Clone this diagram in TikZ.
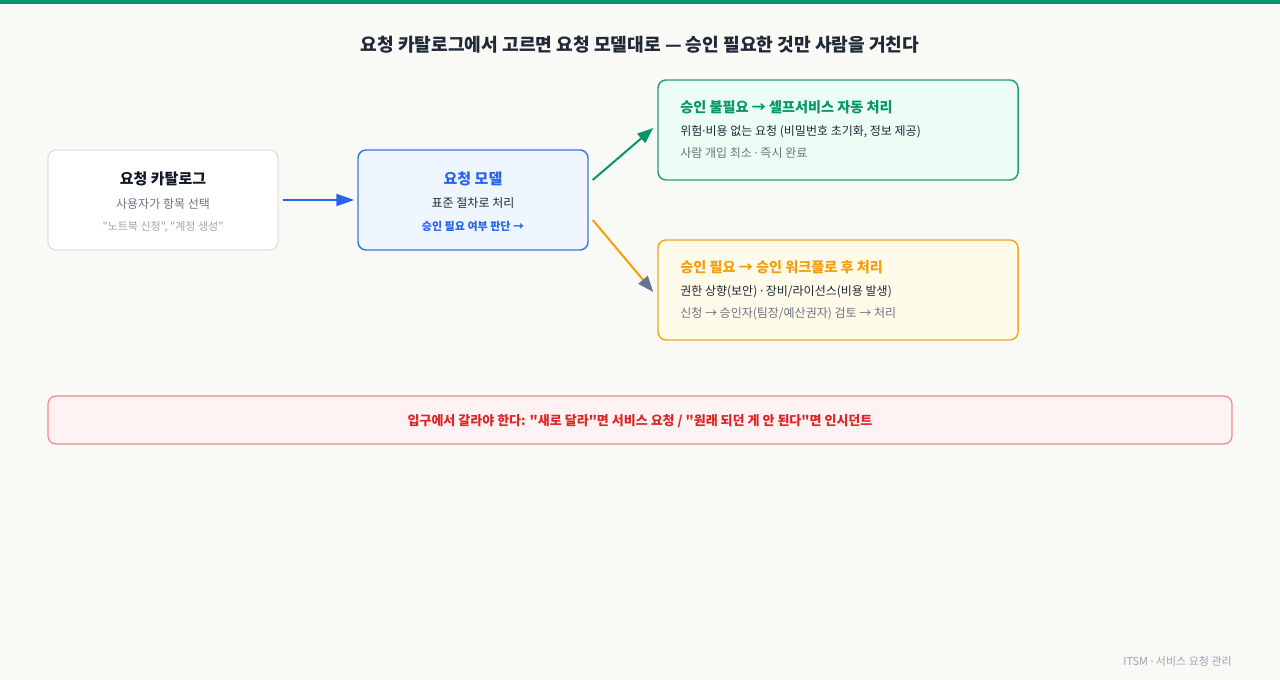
\documentclass[tikz,border=0pt]{standalone}
\usepackage{fontspec}
\setmainfont{Noto Sans CJK KR}[Ligatures=TeXOff]
\newfontfamily\latinfam{Noto Sans}
\newcommand\mdot{{\latinfam ·}}
\usetikzlibrary{arrows.meta,calc}
\definecolor{bg}{HTML}{F9F9F6}
\definecolor{topbar}{HTML}{059669}
\definecolor{titlec}{HTML}{1F2937}
\definecolor{ink}{HTML}{111827}
\definecolor{body}{HTML}{1F2937}
\definecolor{muted}{HTML}{6B7280}
\definecolor{faint}{HTML}{9CA3AF}
\definecolor{catborder}{HTML}{E3E3DD}
\definecolor{blue}{HTML}{2563EB}
\definecolor{blueborder}{HTML}{3B76E8}
\definecolor{bluefill}{HTML}{EFF6FF}
\definecolor{green}{HTML}{059669}
\definecolor{greenborder}{HTML}{1FA075}
\definecolor{greenfill}{HTML}{ECFDF5}
\definecolor{orange}{HTML}{F59E0B}
\definecolor{orangeborder}{HTML}{F5A623}
\definecolor{orangefill}{HTML}{FFFBEB}
\definecolor{red}{HTML}{DC2626}
\definecolor{redborder}{HTML}{F08A8A}
\definecolor{redfill}{HTML}{FEF2F2}
\definecolor{slate}{HTML}{64748B}
\begin{document}
\begin{tikzpicture}[x=0.75pt,y=-0.75pt,
  box/.style={rectangle,rounded corners=6pt,line width=1.1pt,inner sep=0pt},
  smallbox/.style={box,minimum width=172.5pt,minimum height=75pt},
  widebox/.style={box,minimum width=270pt,minimum height=75pt},
  ttl/.style={font=\bfseries\fontsize{11.25pt}{13pt}\selectfont,inner sep=0pt},
  wttl/.style={font=\bfseries\fontsize{10.6pt}{12pt}\selectfont,inner sep=0pt},
  txt/.style={font=\fontsize{9pt}{11pt}\selectfont,inner sep=0pt},
  sml/.style={font=\fontsize{8.25pt}{10pt}\selectfont,inner sep=0pt},
  conn/.style={line width=1.5pt}
]
\fill[bg] (0,0) rectangle (1280,680);
\useasboundingbox (0,0) rectangle (1280,680);
\fill[topbar] (0,0) rectangle (1280,4);

\node[font=\bfseries\fontsize{13.6pt}{16pt}\selectfont,text=titlec,inner sep=0pt] (title) at (640,45) {요청 카탈로그에서 고르면 요청 모델대로 — 승인 필요한 것만 사람을 거친다};

% catalog
\node[smallbox,draw=catborder,fill=white] (cat) at (163,200) {};
\node[ttl,text=ink] (catT) at (163,178.5) {요청 카탈로그};
\node[txt,text=muted] (catA) at (163,203.5) {사용자가 항목 선택};
\node[sml,text=faint] (catB) at (163,226.5) {"노트북 신청", "계정 생성"};

% model
\node[smallbox,draw=blueborder,fill=bluefill] (model) at (473,200) {};
\node[ttl,text=blue] (modT) at (473,178.5) {요청 모델};
\node[txt,text=body] (modA) at (473,203.5) {표준 절차로 처리};
\node[sml,text=blue,font=\bfseries\fontsize{8.25pt}{10pt}\selectfont] (modB) at (473,226.5) {승인 필요 여부 판단 →};

% green
\node[widebox,draw=greenborder,fill=greenfill] (self) at (838,130) {};
\node[wttl,text=green,anchor=west] (selfT) at (680,107.5) {승인 불필요 → 셀프서비스 자동 처리};
\node[txt,text=body,anchor=west] (selfA) at (680,131.5) {위험\mdot 비용 없는 요청 (비밀번호 초기화, 정보 제공)};
\node[txt,text=muted,anchor=west] (selfB) at (680,153.5) {사람 개입 최소 \mdot{} 즉시 완료};

% orange
\node[widebox,draw=orangeborder,fill=orangefill] (appr) at (838,290) {};
\node[wttl,text=orange,anchor=west] (apprT) at (680,267.5) {승인 필요 → 승인 워크플로 후 처리};
\node[txt,text=body,anchor=west] (apprA) at (680,291.5) {권한 상향(보안) \mdot{} 장비/라이선스(비용 발생)};
\node[txt,text=muted,anchor=west] (apprB) at (680,313.5) {신청 → 승인자(팀장/예산권자) 검토 → 처리};

% red note
\node[box,draw=redborder,fill=redfill,minimum width=888pt,minimum height=36pt,line width=0.9pt] (note) at (640,420) {};
\node[font=\bfseries\fontsize{9.75pt}{12pt}\selectfont,text=red,inner sep=0pt] (noteT) at (640,421.5) {입구에서 갈라야 한다: "새로 달라"면 서비스 요청 / "원래 되던 게 안 된다"면 인시던트};

% footer
\node[sml,text=faint,anchor=east] (foot) at (1232,661.5) {ITSM \mdot{} 서비스 요청 관리};

% connectors
\path (cat.east) ++(4,0) coordinate (c1s);
\path (model.west) ++(-3,0) coordinate (c1e);
\draw[conn,draw=blue,-{Triangle[length=13.5pt,width=9pt]}] (c1s) -- (c1e);

\path (model.east) ++(4,-20) coordinate (c2s);
\path (self.west) ++(-4,-2) coordinate (c2e);
\draw[conn,draw=green,-{Triangle[length=12pt,width=9pt,fill=green]}] (c2s) -- (c2e);

\path (model.east) ++(4,20) coordinate (c3s);
\path (appr.west) ++(-4,2) coordinate (c3e);
\draw[conn,draw=orange,-{Triangle[length=12pt,width=9pt,color=slate,fill=slate]}] (c3s) -- (c3e);
\end{tikzpicture}
\end{document}
